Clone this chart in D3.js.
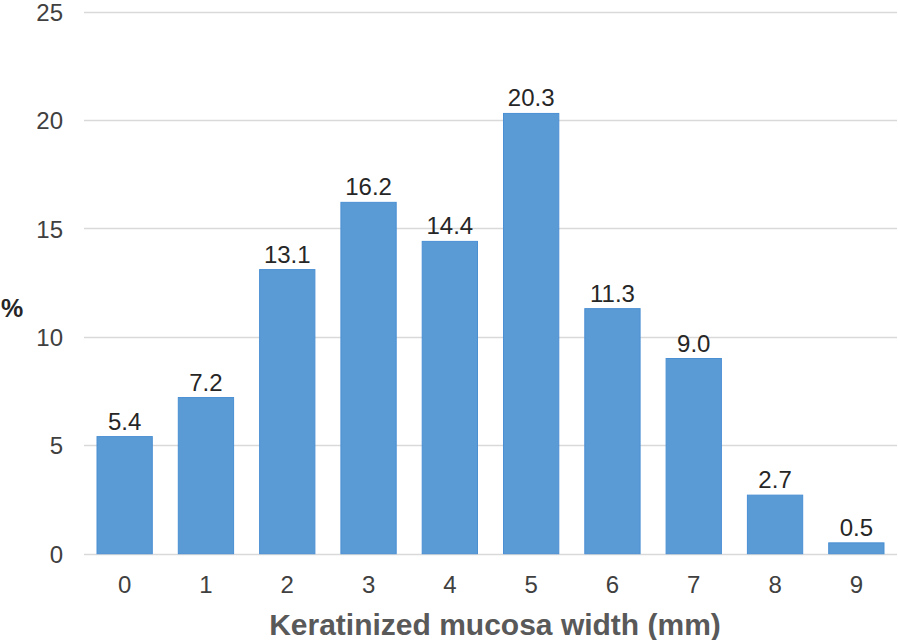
<!DOCTYPE html>
<html><head><meta charset="utf-8">
<script src="https://cdn.jsdelivr.net/npm/d3@7"></script>
<style>body{margin:0;background:#fff}svg{display:block;font-family:"Liberation Sans",Arial,sans-serif}</style>
</head><body>
<svg id="c" width="898" height="640"></svg>
<script>
const categories = ["0","1","2","3","4","5","6","7","8","9"];
const values = [5.4, 7.2, 13.1, 16.2, 14.4, 20.3, 11.3, 9.0, 2.7, 0.5];
const yTicks = [0, 5, 10, 15, 20, 25];
const xTitle = "Keratinized mucosa width (mm)";
const yTitle = "%";

const svg = d3.select("#c");
const x = d3.scaleBand().domain(categories).range([84, 897]).paddingInner(0.32).paddingOuter(0.16);
const y = d3.scaleLinear().domain([0, 25]).range([553.7, 11.5]);

// gridlines
svg.append("g").selectAll("line").data(yTicks).join("line")
  .attr("x1", 84).attr("x2", 897)
  .attr("y1", d => Math.round(y(d)) + 0.5).attr("y2", d => Math.round(y(d)) + 0.5)
  .attr("stroke", "#d9d9d9").attr("stroke-width", 1.3);

// y axis labels
const ya = svg.append("g").attr("transform", "translate(63,0)")
  .call(d3.axisLeft(y).tickValues(yTicks).tickSize(0).tickPadding(0));
ya.select(".domain").remove();
ya.selectAll("text").attr("font-size", 24).attr("dy", "0.36em").attr("fill", "#404040").attr("font-family", "Liberation Sans, Arial, sans-serif");

// bars
svg.append("g").selectAll("rect").data(values).join("rect")
  .attr("x", (d, i) => x(categories[i]))
  .attr("width", x.bandwidth())
  .attr("y", d => y(d))
  .attr("height", d => y(0) - y(d))
  .attr("fill", "#5b9bd5").attr("stroke", "#4a8fd3").attr("stroke-width", 1);

// data labels
svg.append("g").selectAll("text").data(values).join("text")
  .attr("x", (d, i) => x(categories[i]) + x.bandwidth() / 2)
  .attr("y", d => y(d) - 7)
  .attr("text-anchor", "middle").attr("font-size", 24).attr("fill", "#262626")
  .text(d => d.toFixed(1));

// x axis labels
const xa = svg.append("g").attr("transform", "translate(0,576)")
  .call(d3.axisBottom(x).tickSize(0).tickPadding(0));
xa.select(".domain").remove();
xa.selectAll("text").attr("font-size", 24).attr("fill", "#404040").attr("font-family", "Liberation Sans, Arial, sans-serif");

// titles
svg.append("text").attr("x", 495).attr("y", 635).attr("text-anchor", "middle")
  .attr("font-size", 30).attr("font-weight", "bold").attr("fill", "#595959").text(xTitle);
svg.append("text").attr("x", 12).attr("y", 317).attr("text-anchor", "middle")
  .attr("font-size", 25).attr("font-weight", "bold").attr("fill", "#262626").text(yTitle);
</script>
</body></html>
